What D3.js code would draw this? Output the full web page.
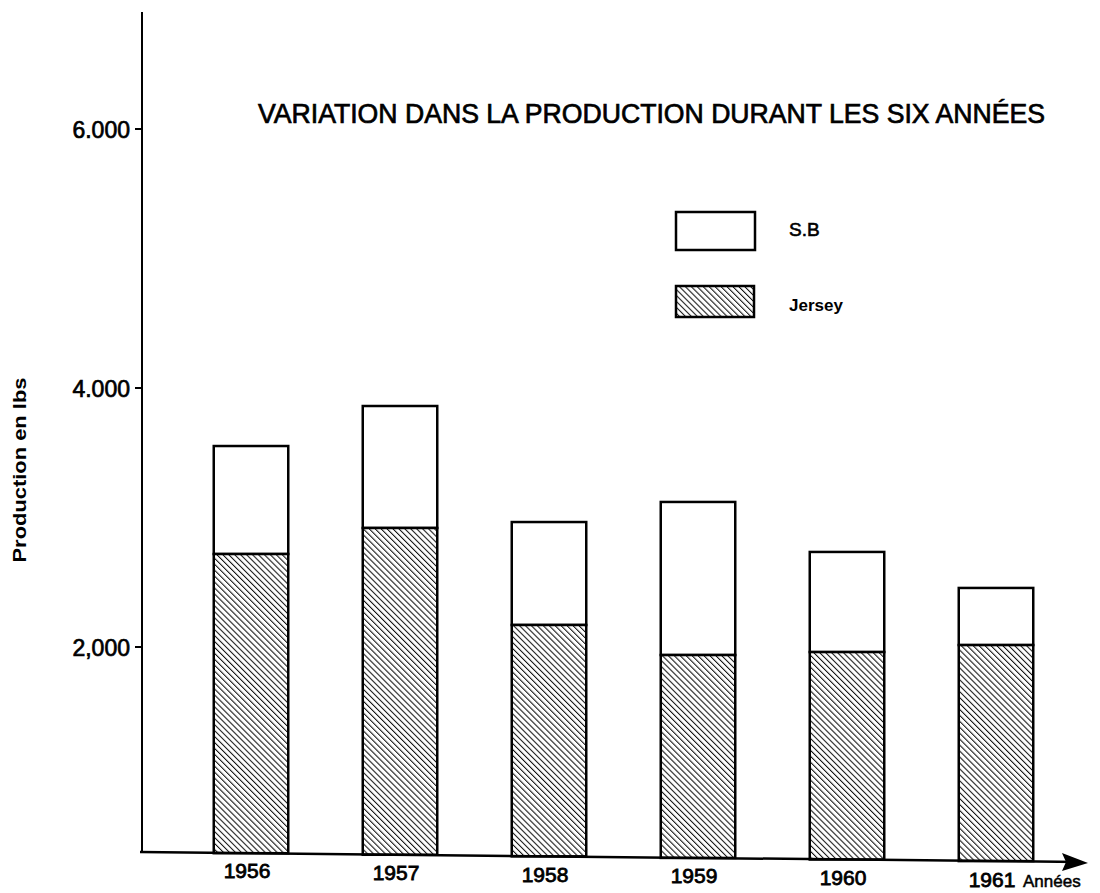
<!DOCTYPE html>
<html><head><meta charset="utf-8">
<script src="https://cdn.jsdelivr.net/npm/d3@7"></script>
<style>body{margin:0;background:#fff}svg{display:block}</style>
</head><body>
<svg id="c" width="1100" height="893"></svg>
<script>
const years = ["1956","1957","1958","1959","1960","1961"];
const jersey = [2718, 2919, 2170, 1938, 1961, 2015];
const sb = [834, 942, 795, 1182, 773, 441];
const yTicks = [2000, 4000, 6000];
const yTickLabels = ["2,000", "4.000", "6.000"];
const legendLabels = ["S.B", "Jersey"];
const title = "VARIATION DANS LA PRODUCTION DURANT LES SIX ANNÉES";

const svg = d3.select("#c");
const font = "'Liberation Sans', Arial, sans-serif";
const axisX = 142, axisTop = 12;
const ax0 = 140, ay0 = 852, ax1 = 1080, ay1 = 862;
const baseAt = px => ay0 + (px - ax0) * (ay1 - ay0) / (ax1 - ax0);

const defs = svg.append("defs");
const pat = defs.append("pattern").attr("id","hatch").attr("patternUnits","userSpaceOnUse")
  .attr("width",4.2).attr("height",4.2).attr("patternTransform","rotate(-45)");
pat.append("rect").attr("width",4.2).attr("height",4.2).attr("fill","#fff");
pat.append("line").attr("x1",0).attr("y1",0).attr("x2",0).attr("y2",4.2)
  .attr("stroke","#111").attr("stroke-width",2.1);

const x = d3.scaleBand().domain(years).range([176.5, 1070.5]).paddingInner(0.5).paddingOuter(0.25);
const y = d3.scaleLinear().domain([2000, 6000]).range([647, 129]);

// bars
const g = svg.append("g");
years.forEach((yr, i) => {
  const jt = y(jersey[i]);
  const tt = y(jersey[i] + sb[i]);
  const bx = x(yr), bw = x.bandwidth();
  g.append("rect").attr("x", bx).attr("y", tt).attr("width", bw).attr("height", jt - tt)
    .attr("fill","#fff").attr("stroke","#000").attr("stroke-width",2.5);
  const b = baseAt(bx + bw/2);
  g.append("rect").attr("x", bx).attr("y", jt).attr("width", bw).attr("height", b - jt)
    .attr("fill","url(#hatch)").attr("stroke","#000").attr("stroke-width",2.5);
});

// y axis
svg.append("line").attr("x1",axisX).attr("x2",axisX).attr("y1",axisTop).attr("y2",ay0+1)
  .attr("stroke","#000").attr("stroke-width",2);
yTicks.forEach((t,i)=>{
  svg.append("line").attr("x1",axisX-7).attr("x2",axisX).attr("y1",y(t)).attr("y2",y(t))
    .attr("stroke","#000").attr("stroke-width",2);
  svg.append("text").attr("x",axisX-12).attr("y",y(t)+8.5).attr("text-anchor","end")
    .attr("font-family",font).attr("font-size",23).attr("fill","#000")
    .attr("stroke","#000").attr("stroke-width",0.7).text(yTickLabels[i]);
});

// x axis with arrow
svg.append("line").attr("x1",ax0).attr("x2",ax1).attr("y1",ay0).attr("y2",ay1)
  .attr("stroke","#000").attr("stroke-width",2.5);
svg.append("path").attr("d","M1088,863 L1062,853 L1066,862 L1062,871 Z").attr("fill","#000");

years.forEach((yr,i)=>{
  svg.append("text").attr("x", x(yr)+x.bandwidth()/2-4).attr("y", 878 + i*1.8)
    .attr("text-anchor","middle").attr("font-family",font).attr("font-size",21).attr("fill","#000")
    .attr("stroke","#000").attr("stroke-width",0.8).text(yr);
});
svg.append("text").attr("x", 1023).attr("y", 887).attr("font-family",font).attr("font-size",17)
  .attr("fill","#000").attr("stroke","#000").attr("stroke-width",0.5).text("Années");

// y label
svg.append("text").attr("transform","translate(26,470) rotate(-90)").attr("text-anchor","middle")
  .attr("font-family",font).attr("font-weight","bold").attr("font-size",18).attr("fill","#000")
  .attr("textLength",185).attr("lengthAdjust","spacingAndGlyphs")
  .text("Production en lbs");

// title
svg.append("text").attr("x",258).attr("y",123).attr("font-family",font).attr("font-size",27)
  .attr("textLength",787).attr("lengthAdjust","spacingAndGlyphs").attr("fill","#000")
  .attr("stroke","#000").attr("stroke-width",0.7).text(title);

// legend
svg.append("rect").attr("x",676).attr("y",212).attr("width",79).attr("height",38)
  .attr("fill","#fff").attr("stroke","#000").attr("stroke-width",2.5);
svg.append("rect").attr("x",676).attr("y",286).attr("width",78).attr("height",31)
  .attr("fill","url(#hatch)").attr("stroke","#000").attr("stroke-width",2.5);
svg.append("text").attr("x",789).attr("y",236).attr("font-family",font).attr("font-size",19)
  .attr("fill","#000").attr("stroke","#000").attr("stroke-width",0.6).text(legendLabels[0]);
svg.append("text").attr("x",789).attr("y",311).attr("font-family",font).attr("font-weight","bold")
  .attr("font-size",17).attr("fill","#000").text(legendLabels[1]);
</script>
</body></html>
